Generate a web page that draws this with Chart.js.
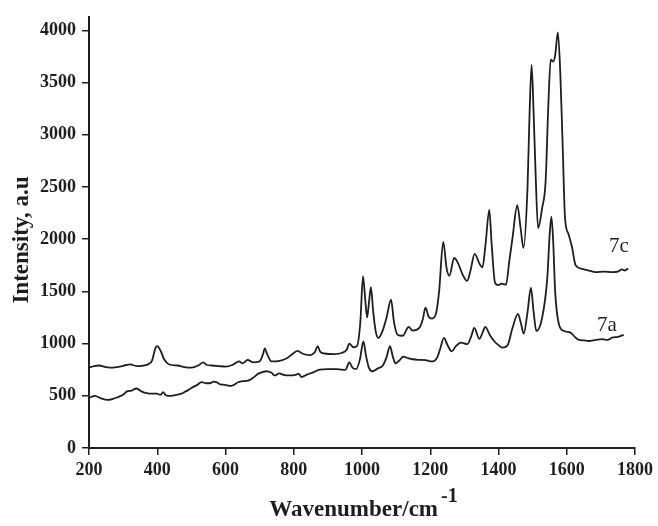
<!DOCTYPE html>
<html>
<head>
<meta charset="utf-8">
<script src="https://cdn.jsdelivr.net/npm/chart.js@4.4.1/dist/chart.umd.min.js"></script>
<style>
  html, body { margin: 0; padding: 0; background: #fff; }
  #wrap { width: 658px; height: 526px; }
</style>
</head>
<body>
<div id="wrap"><canvas id="chart" width="658" height="526"></canvas></div>
<script>
// spectrum 7c (upper trace), wavenumber / intensity
const wave7c = [200, 215, 230, 250, 270, 290, 310, 320, 340, 360, 375, 385, 395, 400, 410, 420, 435, 460, 480, 500,
  520, 535, 545, 560, 580, 600, 620, 640, 650, 665, 680, 700, 710, 715, 722, 735, 758, 780, 800, 811,
  825, 846, 862, 870, 878, 890, 920, 940, 955, 963, 975, 985, 995, 1003, 1010, 1015, 1020, 1026, 1033, 1040,
  1048, 1060, 1072, 1085, 1094, 1104, 1119, 1137, 1148, 1168, 1178, 1186, 1195, 1205, 1217, 1226, 1238, 1248, 1256, 1270,
  1280, 1295, 1308, 1318, 1330, 1345, 1353, 1362, 1373, 1380, 1390, 1400, 1408, 1422, 1432, 1441, 1455, 1465, 1473, 1485,
  1491, 1497, 1503, 1508, 1516, 1528, 1538, 1546, 1553, 1560, 1566, 1574, 1581, 1588, 1595, 1605, 1615, 1626, 1645, 1665,
  1684, 1710, 1733, 1750, 1762, 1770, 1780];
const int7c = [770, 785, 790, 775, 770, 780, 795, 800, 785, 790, 805, 840, 960, 975, 930, 850, 800, 790, 775, 770,
  790, 820, 795, 790, 785, 780, 795, 830, 810, 845, 820, 830, 900, 955, 900, 830, 835, 860, 910, 930,
  905, 890, 920, 975, 920, 905, 900, 910, 940, 1000, 965, 975, 1200, 1645, 1400, 1250, 1380, 1540, 1300, 1120,
  1055, 1120, 1250, 1420, 1200, 1085, 1075, 1160, 1125, 1150, 1230, 1345, 1260, 1240, 1290, 1500, 1975, 1720, 1650, 1820,
  1780, 1660, 1600, 1700, 1860, 1760, 1730, 1950, 2280, 1950, 1580, 1560, 1575, 1565, 1800, 2010, 2325, 2100, 1915, 2490,
  3200, 3670, 3200, 2700, 2105, 2300, 2550, 3280, 3720, 3700, 3760, 3980, 3600, 2900, 2200, 2050, 1930, 1750, 1715, 1700,
  1685, 1690, 1685, 1690, 1710, 1700, 1720];

// spectrum 7a (lower trace)
const wave7a = [200, 218, 235, 256, 270, 286, 300, 310, 325, 339, 355, 369, 385, 398, 410, 417, 425, 432, 450, 471,
  485, 500, 515, 530, 545, 554, 565, 573, 585, 598, 617, 637, 650, 666, 680, 695, 710, 720, 735, 744,
  758, 770, 788, 805, 815, 822, 840, 857, 876, 900, 925, 940, 951, 963, 972, 983, 994, 1004, 1012, 1020,
  1031, 1045, 1061, 1072, 1082, 1090, 1098, 1110, 1121, 1135, 1148, 1165, 1187, 1200, 1207, 1221, 1230, 1240, 1250, 1263,
  1275, 1290, 1309, 1320, 1329, 1344, 1355, 1361, 1375, 1387, 1400, 1411, 1426, 1441, 1457, 1466, 1474, 1485, 1495, 1503,
  1511, 1528, 1543, 1550, 1555, 1560, 1566, 1577, 1592, 1611, 1625, 1636, 1650, 1665, 1685, 1704, 1720, 1733, 1750, 1767];
const int7a = [480, 500, 475, 460, 470, 490, 510, 540, 550, 570, 540, 525, 520, 520, 510, 535, 505, 500, 505, 520,
  545, 575, 600, 630, 620, 620, 635, 630, 610, 605, 595, 630, 640, 645, 670, 710, 730, 735, 720, 695,
  715, 700, 695, 700, 710, 680, 705, 725, 750, 755, 755, 750, 748, 820, 770, 756, 850, 1020, 880, 770,
  735, 760, 790, 870, 975, 880, 810, 840, 875, 860, 850, 845, 842, 830, 830, 870, 960, 1055, 990, 925,
  975, 1010, 995, 1070, 1150, 1045, 1120, 1160, 1080, 1025, 985, 962, 980, 1150, 1285, 1190, 1095, 1300, 1535, 1300,
  1120, 1250, 1630, 2050, 2215, 2000, 1500, 1185, 1120, 1105, 1060, 1035, 1030, 1025, 1035, 1042, 1035, 1057, 1065, 1083];

const seriesNames = ['7c', '7a'];
const xTicks = [200, 400, 600, 800, 1000, 1200, 1400, 1600, 1800];
const yTicks = [0, 500, 1000, 1500, 2000, 2500, 3000, 3500, 4000];

function toPoints(xs, ys) {
  return xs.map((x, i) => ({ x: x, y: ys[i] }));
}

const ink = '#1e1e1e';
const tickFont = { family: '"Liberation Serif", "Times New Roman", serif', size: 18, weight: 'bold' };

// axis titles and curve labels, drawn on the canvas
const decorations = {
  id: 'decorations',
  afterDraw(chart) {
    const ctx = chart.ctx;
    const xs = chart.scales.x, ys = chart.scales.y;
    ctx.save();
    ctx.fillStyle = ink;

    // x title with superscript
    ctx.font = 'bold 23px "Liberation Serif", serif';
    ctx.textBaseline = 'alphabetic';
    const main = 'Wavenumber/cm';
    const w = ctx.measureText(main).width;
    ctx.font = 'bold 20px "Liberation Serif", serif';
    const sup = '-1';
    const ws = ctx.measureText(sup).width;
    const startX = 362 - (w + ws) / 2;
    ctx.font = 'bold 23px "Liberation Serif", serif';
    ctx.textAlign = 'left';
    ctx.fillText(main, startX, 516);
    ctx.font = 'bold 20px "Liberation Serif", serif';
    ctx.fillText(sup, startX + w + 3, 502);

    // y title
    ctx.save();
    ctx.translate(28, 240);
    ctx.rotate(-Math.PI / 2);
    ctx.textAlign = 'center';
    ctx.font = 'bold 23px "Liberation Serif", serif';
    ctx.fillText('Intensity, a.u', 0, 0);
    ctx.restore();

    // series labels
    ctx.font = '21px "Liberation Serif", serif';
    ctx.textAlign = 'center';
    ctx.textBaseline = 'middle';
    ctx.fillText(seriesNames[0], xs.getPixelForValue(1753), ys.getPixelForValue(1930));
    ctx.fillText(seriesNames[1], xs.getPixelForValue(1718), ys.getPixelForValue(1178));
    ctx.restore();
  }
};

const canvas = document.getElementById('chart');
const config = {
  type: 'line',
  data: {
    datasets: [{
      label: seriesNames[0],
      data: toPoints(wave7c, int7c),
      borderColor: ink,
      borderWidth: 1.8,
      pointRadius: 0,
      cubicInterpolationMode: 'monotone',
    }, {
      label: seriesNames[1],
      data: toPoints(wave7a, int7a),
      borderColor: ink,
      borderWidth: 1.8,
      pointRadius: 0,
      cubicInterpolationMode: 'monotone',
    }]
  },
  options: {
    responsive: false,
    animation: false,
    devicePixelRatio: 1,
    layout: { padding: { top: 14, right: 22, left: 0, bottom: 0 } },
    plugins: {
      legend: { display: false },
      tooltip: { enabled: false },
    },
    scales: {
      x: {
        type: 'linear',
        min: 200,
        max: 1800,
        afterBuildTicks: s => { s.ticks = xTicks.map(v => ({ value: v })); },
        afterFit: s => { s.height = 78; },
        ticks: { color: ink, font: tickFont, padding: 5, maxRotation: 0, callback: v => String(v) },
        grid: { drawOnChartArea: false, drawTicks: true, tickLength: 7, color: ink, lineWidth: 1.5 },
        border: { display: true, color: ink, width: 2 },
      },
      y: {
        type: 'linear',
        min: 0,
        max: 4130,
        afterBuildTicks: s => { s.ticks = yTicks.map(v => ({ value: v })); },
        afterFit: s => { s.width = 89; },
        ticks: { color: ink, font: tickFont, padding: 6, callback: v => String(v) },
        grid: { drawOnChartArea: false, drawTicks: true, tickLength: 7, color: ink, lineWidth: 1.5 },
        border: { display: true, color: ink, width: 2 },
      }
    }
  },
  plugins: [decorations]
};

new Chart(canvas, config);
</script>
</body>
</html>
